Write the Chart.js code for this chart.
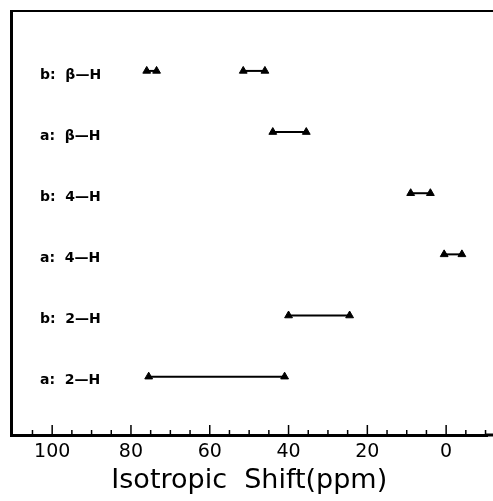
<!DOCTYPE html>
<html>
<head>
<meta charset="utf-8">
<script src="https://cdn.jsdelivr.net/npm/chart.js@4"></script>
<style>
html, body { margin: 0; padding: 0; background: #fff; }
</style>
</head>
<body>
<canvas id="shiftChart" width="493" height="501"></canvas>
<script>
"use strict";

// rows bottom -> top
var rowLabels = ["a:  2\u2014H", "b:  2\u2014H", "a:  4\u2014H", "b:  4\u2014H", "a:  \u03b2\u2014H", "b:  \u03b2\u2014H"];
// one entry per range segment (row index is 1-based)
var segRow = [1, 2, 3, 4, 5, 6, 6];
var segStart = [75.5, 40, 0.5, 9, 44, 76, 51.5];
var segEnd = [41, 24.5, -4, 4, 35.5, 73.5, 46];
var majorTicks = [100, 80, 60, 40, 20, 0];
var minorTicks = [105, 95, 90, 85, 75, 70, 65, 55, 50, 45, 35, 30, 25, 15, 10, 5, -5, -10];

var frame = {
    id: "frame",
    afterDraw: function(c) {
        var a = c.chartArea, x = c.scales.x, ctx = c.ctx;
        ctx.save();
        ctx.strokeStyle = "#000";
        ctx.lineWidth = 2;
        ctx.beginPath();
        ctx.moveTo(a.left, a.top);
        ctx.lineTo(c.width, a.top);
        ctx.stroke();
        ctx.lineWidth = 3;
        ctx.beginPath();
        ctx.moveTo(a.right - 2, a.bottom);
        ctx.lineTo(c.width, a.bottom);
        ctx.stroke();
        ctx.lineWidth = 1.5;
        majorTicks.concat(minorTicks).forEach(function(v) {
            var px = x.getPixelForValue(v), len = majorTicks.indexOf(v) >= 0 ? 10 : 5;
            ctx.beginPath();
            ctx.moveTo(px, a.bottom);
            ctx.lineTo(px, a.bottom - len);
            ctx.stroke();
        });
        ctx.restore();
    }
};

new Chart(document.getElementById("shiftChart"), {
    type: "scatter",
    data: {
        datasets: segRow.map(function(r, i) {
            return {
                data: [ { x: segStart[i], y: r }, { x: segEnd[i], y: r } ],
                showLine: true,
                borderColor: "#000",
                borderWidth: 2,
                pointStyle: "triangle",
                pointRadius: 4.5,
                pointBackgroundColor: "#000",
                pointBorderColor: "#000",
                pointBorderWidth: 1,
                clip: false
            };
        })
    },
    options: {
        responsive: false,
        animation: false,
        layout: { padding: { top: 11, left: 0, right: 0, bottom: 0 } },
        plugins: { legend: { display: false }, tooltip: { enabled: false } },
        scales: {
            x: {
                type: "linear",
                reverse: true,
                min: -10.5,
                max: 110.45,
                grid: { display: false, drawTicks: false },
                border: { display: true, color: "#000", width: 3 },
                ticks: {
                    stepSize: 20,
                    includeBounds: false,
                    autoSkip: false,
                    maxRotation: 0,
                    padding: 6,
                    color: "#000",
                    font: { family: "DejaVu Sans", size: 19 },
                    callback: function(v) {
                        return majorTicks.indexOf(v) >= 0 ? String(v) : "";
                    }
                },
                title: {
                    display: true,
                    text: "Isotropic  Shift(ppm)",
                    color: "#000",
                    font: { family: "DejaVu Sans", size: 27 },
                    padding: { top: 0, bottom: 4 }
                },
                afterFit: function(s) {
                    s.height = 66;
                    s.paddingLeft = 0;
                    s.paddingRight = 0;
                }
            },
            y: {
                type: "linear",
                min: 0.046,
                max: 6.98,
                grid: { display: false, drawTicks: false },
                border: { display: true, color: "#000", width: 3 },
                afterBuildTicks: function(s) {
                    s.ticks = rowLabels.map(function(l, i) { return { value: i + 1 }; });
                },
                ticks: {
                    mirror: true,
                    padding: 29,
                    labelOffset: 4,
                    color: "#000",
                    font: { family: "DejaVu Sans", size: 14, weight: "bold" },
                    callback: function(v) { return rowLabels[v - 1] || ""; }
                },
                afterFit: function(s) {
                    s.width = 11;
                    s.paddingTop = 0;
                    s.paddingBottom = 0;
                }
            }
        }
    },
    plugins: [ frame ]
});
</script>
</body>
</html>
